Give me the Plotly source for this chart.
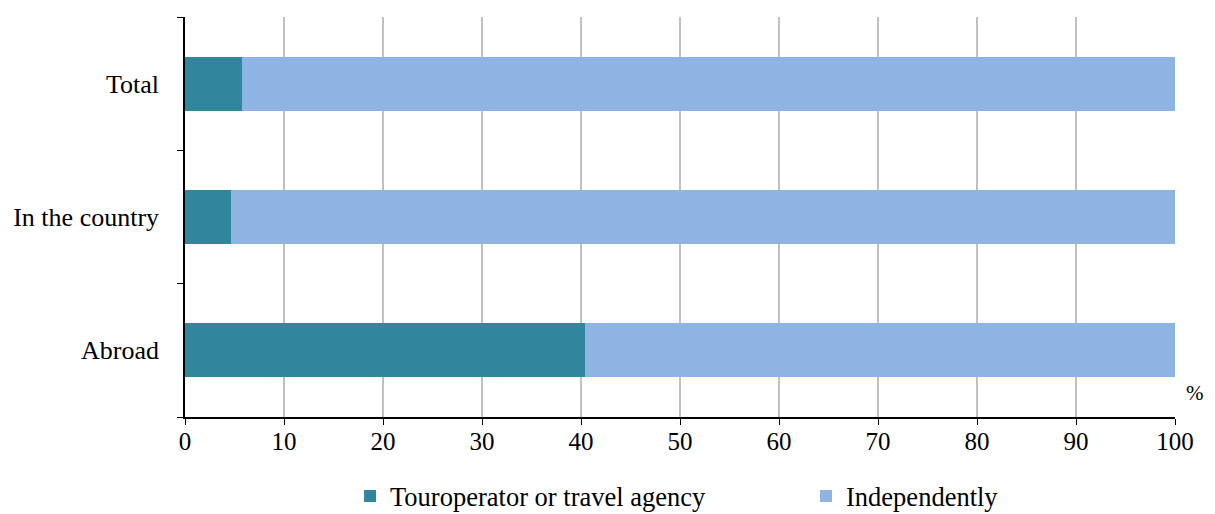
import plotly.graph_objects as go

categories = ["Abroad", "In the country", "Total"]
touroperator = [40.4, 4.6, 5.8]
independently = [59.6, 95.4, 94.2]
series_names = ["Touroperator or travel agency", "Independently"]
x_ticks = [0, 10, 20, 30, 40, 50, 60, 70, 80, 90, 100]

fig = go.Figure()
fig.add_trace(go.Bar(y=categories, x=touroperator, orientation="h", name=series_names[0],
                     marker=dict(color="#31859C", line=dict(width=0)), width=0.405,
                     legend="legend"))
fig.add_trace(go.Bar(y=categories, x=independently, orientation="h", name=series_names[1],
                     marker=dict(color="#8EB4E3", line=dict(width=0)), width=0.405,
                     legend="legend2"))

font_family = "Liberation Serif"
leg_common = dict(orientation="h", xanchor="left", y=-0.198, yanchor="middle",
                  font=dict(size=26.5), bgcolor="rgba(0,0,0,0)")
fig.update_layout(
    barmode="stack",
    width=1199, height=506,
    margin=dict(l=177, r=32, t=9, b=97, autoexpand=False),
    paper_bgcolor="white", plot_bgcolor="white",
    font=dict(family=font_family, size=26, color="black"),
    showlegend=True,
    legend=dict(x=0.1667, **leg_common),
    legend2=dict(x=0.6273, **leg_common),
    xaxis=dict(range=[0, 100], tickvals=x_ticks, showgrid=True, gridcolor="#C0C0C0", gridwidth=1.5,
               showline=True, linecolor="black", linewidth=1.5, ticks="outside", ticklen=6,
               tickcolor="black", zeroline=False, fixedrange=True, ticklabelstandoff=-5,
               tickfont=dict(size=25)),
    yaxis=dict(range=[-0.5, 2.5], tickson="boundaries", ticks="outside", ticklen=6, tickcolor="black",
               showline=True, linecolor="black", linewidth=1.5, showgrid=False, ticklabelstandoff=19,
               tickfont=dict(size=26)),
)
fig.add_annotation(text="%", x=1.0, xref="paper", y=0.0, yref="paper", xanchor="left", yanchor="middle",
                   xshift=9, yshift=24, showarrow=False, font=dict(size=21))

fig.write_html("out.html")
